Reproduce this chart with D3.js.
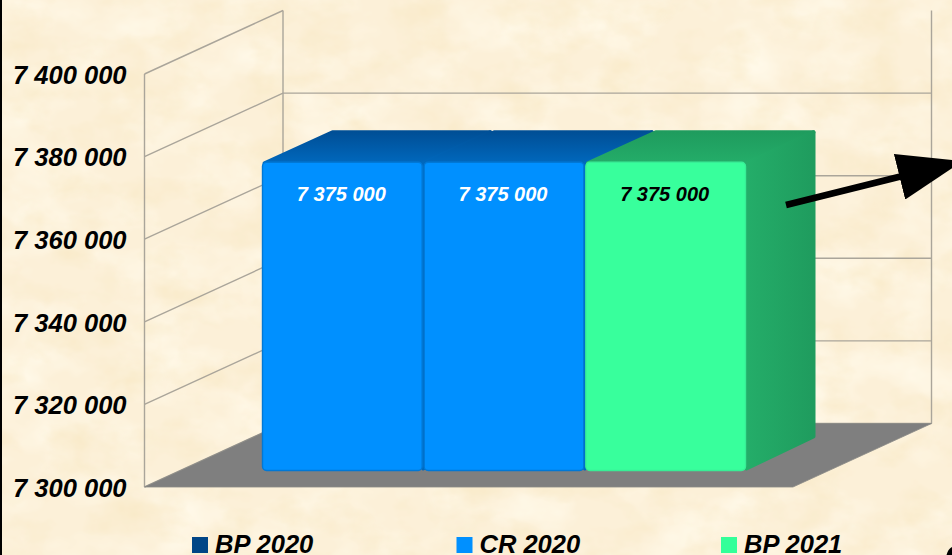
<!DOCTYPE html>
<html><head><meta charset="utf-8">
<script src="https://cdn.jsdelivr.net/npm/d3@7"></script>
<style>
html,body{margin:0;padding:0;background:#fdf1d9;overflow:hidden}
text{font-family:"Liberation Sans",Arial,sans-serif;font-style:italic;font-weight:700}
</style></head><body>
<svg id="c" width="952" height="555" style="display:block"></svg>
<script>
const categories=["BP 2020","CR 2020","BP 2021"];
const values=[7375000,7375000,7375000];
const tickValues=[7300000,7320000,7340000,7360000,7380000,7400000];
const legendColors=["#004586","#0090ff","#33ff99"];
const frontColors=["#0090ff","#0090ff","#38ff9c"];
const edgeColors=["#0078d6","#0078d6","#38ee96"];
const topDark=["#004f96","#004f96","#1f9c5e"];
const topLight=["#0068bd","#0068bd","#24ad69"];
const labelColors=["#ffffff","#ffffff","#000000"];

const svg=d3.select("#c");
const W=952,H=555;
const defs=svg.append("defs");
const noise=(id,freq,seed,rgb,gain,off)=>{
  const f=defs.append("filter").attr("id",id).attr("x",0).attr("y",0).attr("width","100%").attr("height","100%")
    .attr("color-interpolation-filters","sRGB");
  f.append("feTurbulence").attr("type","fractalNoise").attr("baseFrequency",freq).attr("numOctaves",4).attr("seed",seed);
  f.append("feColorMatrix").attr("type","matrix").attr("values",`0 0 0 0 ${rgb[0]}  0 0 0 0 ${rgb[1]}  0 0 0 0 ${rgb[2]}  ${gain} 0 0 0 ${off}`);
};
noise("paperLight","0.014 0.02",7,[1,.975,.91],2.4,-1.0);
noise("paperDark","0.02 0.028",23,[.975,.915,.78],1.8,-0.8);
const lg=(id,c0,c1,x2,y2)=>{const g=defs.append("linearGradient").attr("id",id).attr("x1",0).attr("y1",0).attr("x2",x2).attr("y2",y2);
  g.append("stop").attr("offset",0).attr("stop-color",c0);g.append("stop").attr("offset",1).attr("stop-color",c1);};
categories.forEach((c,i)=>{
  lg("top"+i,topDark[i],topLight[i],0,1);
  lg("side"+i,topLight[i],topDark[i],1,0);
});
const marker=defs.append("marker").attr("id","arrow").attr("markerUnits","userSpaceOnUse")
  .attr("viewBox","0 0 65 47").attr("refX",1).attr("refY",23.5).attr("markerWidth",65).attr("markerHeight",47).attr("orient","auto");
marker.append("path").attr("d","M0,0L65,23.5L0,47Z").attr("fill","#000");

svg.append("rect").attr("width",W).attr("height",H).attr("fill","#fcf0d8");
svg.append("rect").attr("width",W).attr("height",H).attr("fill","#fff").attr("filter","url(#paperLight)");
svg.append("rect").attr("width",W).attr("height",H).attr("fill","#fff").attr("filter","url(#paperDark)");
svg.append("rect").attr("width",2).attr("height",H).attr("fill","#000");

const x0=144.5,xEnd=793;
const y=d3.scaleLinear().domain([7300000,7400000]).range([487,74]);
const backDx=138.5,backDy=-63.5;
const grid="#aaa59a";
const g=svg.append("g").attr("fill","none").attr("stroke",grid).attr("stroke-width",1.4);
g.selectAll("line.side").data(tickValues).join("line").attr("x1",x0).attr("y1",d=>y(d))
 .attr("x2",x0+backDx).attr("y2",d=>y(d)+backDy);
g.selectAll("line.back").data(tickValues).join("line").attr("x1",x0+backDx).attr("y1",d=>y(d)+backDy)
 .attr("x2",xEnd+backDx).attr("y2",d=>y(d)+backDy)
 .attr("visibility",d=>d===7400000?"hidden":null);
const yTop=y(7400000);
g.append("line").attr("x1",x0).attr("x2",x0).attr("y1",yTop).attr("y2",y(7300000));
g.append("line").attr("x1",x0+backDx).attr("x2",x0+backDx).attr("y1",yTop+backDy).attr("y2",y(7300000)+backDy);
g.append("line").attr("x1",xEnd+backDx).attr("x2",xEnd+backDx).attr("y1",yTop+backDy).attr("y2",y(7300000)+backDy);

const y0=y(7300000);
svg.append("path").attr("fill","#7f7f7f").attr("stroke","#8a8a86").attr("stroke-width",.8)
 .attr("d",d3.line()([[x0,y0],[x0+backDx,y0+backDy],[xEnd+backDx,y0+backDy],[xEnd,y0]])+"Z");

svg.selectAll("text.tick").data(tickValues).join("text").attr("class","tick")
 .attr("x",126.5).attr("y",d=>y(d)+9.7).attr("text-anchor","end").attr("font-size",25.5).attr("fill","#000")
 .text(d=>d3.format(",")(d).replace(/,/g," "));

// bars
const band=d3.scaleBand().domain(categories).range([261.5,746.5]).paddingInner(0);
const barBase=470.5;
const yBar=d3.scaleLinear().domain([7300000,7400000]).range([barBase,barBase-411]);
const dDx=69,dDy=-32;
const bars=svg.selectAll("g.bar").data(categories).join("g").attr("class","bar");
bars.each(function(c,i){
  const s=d3.select(this),x=band(c),w=band.bandwidth(),t=yBar(values[i]);
  const inset=2;
  s.append("path").attr("fill",`url(#top${i})`).attr("stroke",`url(#top${i})`).attr("stroke-width",inset*2).attr("stroke-linejoin","round")
   .attr("d",d3.line()([[x+inset+1,t+1],[x+dDx+inset,t+dDy+inset],[x+w+dDx-inset,t+dDy+inset],[x+w,t+1]])+"Z");
  s.append("path").attr("fill",`url(#side${i})`).attr("stroke",`url(#side${i})`).attr("stroke-width",inset*2).attr("stroke-linejoin","round")
   .attr("d",d3.line()([[x+w,t+1],[x+w+dDx-inset,t+dDy+inset],[x+w+dDx-inset,barBase+dDy-inset],[x+w,barBase-inset]])+"Z");
  s.append("rect").attr("x",x+1).attr("y",t).attr("width",w-2).attr("height",barBase-t)
   .attr("rx",4).attr("ry",4).attr("fill",frontColors[i])
   .attr("stroke",edgeColors[i]).attr("stroke-width",1.4);
  s.append("text").attr("x",x+w/2-1).attr("y",t+39).attr("text-anchor","middle")
   .attr("font-size",20).attr("fill",labelColors[i])
   .text(d3.format(",")(values[i]).replace(/,/g," "));
});

// arrow
svg.append("line").attr("x1",786).attr("y1",205).attr("x2",900.5).attr("y2",176.5)
 .attr("stroke","#000").attr("stroke-width",6.6).attr("marker-end","url(#arrow)");
// clipped shape in the bottom-right corner
svg.append("path").attr("d","M952,547 Q948,549 946.5,555 L952,555Z").attr("fill","#000");

// legend
const legendX=d3.scalePoint().domain(categories).range([192,721]);
const leg=svg.selectAll("g.leg").data(categories).join("g").attr("class","leg")
 .attr("transform",d=>`translate(${legendX(d)},537)`);
leg.append("rect").attr("width",16).attr("height",16).attr("fill",(d,i)=>legendColors[i]);
leg.append("text").attr("x",23).attr("y",16.3).attr("font-size",25.5).attr("fill","#000").text(d=>d);
</script></body></html>
